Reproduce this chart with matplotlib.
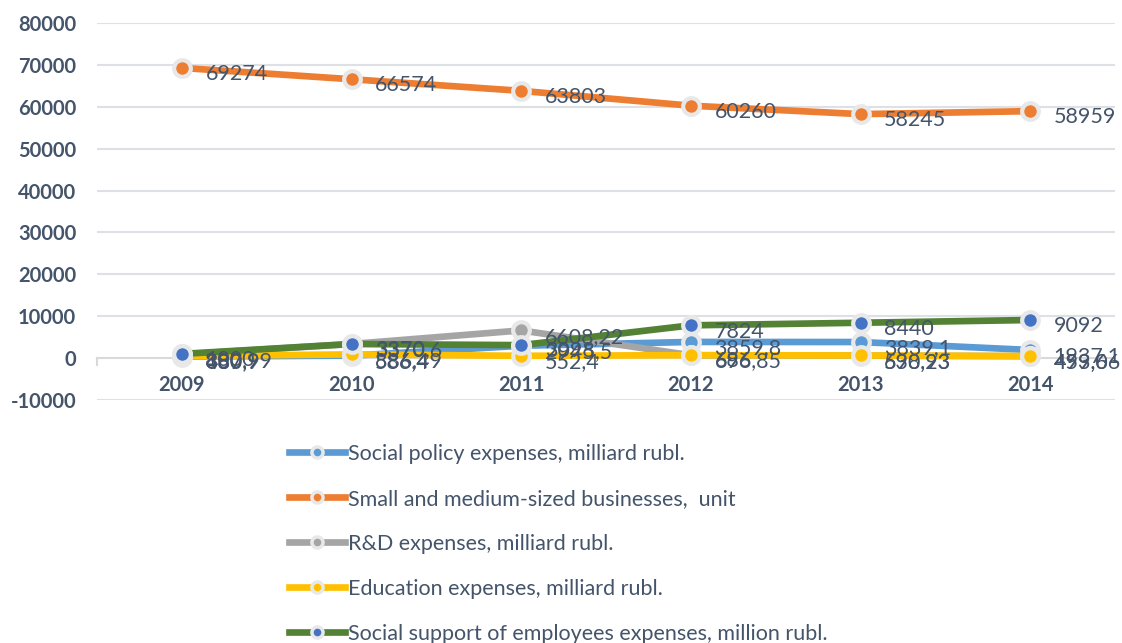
import matplotlib
matplotlib.use("Agg")
import matplotlib.pyplot as plt
from matplotlib.lines import Line2D

years = ["2009", "2010", "2011", "2012", "2013", "2014"]
social_policy = [380.0, 586.4, 2945.5, 3859.8, 3839.1, 1937.1]
smb = [69274, 66574, 63803, 60260, 58245, 58959]
rnd = [880.99, 3370.6, 6608.22, 686.0, 590.93, 453.6]
education = [487.9, 886.49, 552.4, 696.85, 638.23, 499.06]
social_support = [1000, 3370, 3098, 7824, 8440, 9092]

social_policy_labels = ["380", "586,4", "2945,5", "3859,8", "3839,1", "1937,1"]
smb_labels = ["69274", "66574", "63803", "60260", "58245", "58959"]
rnd_labels = ["880,99", "3370,6", "6608,22", "686", "590,93", "453,6"]
education_labels = ["487,9", "886,49", "552,4", "696,85", "638,23", "499,06"]
support_labels = ["1000", "3370", "3098", "7824", "8440", "9092"]

names = ["Social policy expenses, milliard rubl.",
         "Small and medium-sized businesses,  unit",
         "R&D expenses, milliard rubl.",
         "Education expenses, milliard rubl.",
         "Social support of employees expenses, million rubl."]

plt.rcParams['font.family'] = ['Lato', 'DejaVu Sans']
TXT = "#44546A"

fig = plt.figure(figsize=(11.22, 6.43), dpi=100)
ax = fig.add_axes([97/1122, 1-400/643, (1115-97)/1122, (400-23)/643])

x = list(range(len(years)))
series = [
    (social_policy, social_policy_labels, "#5B9BD5", "#5B9BD5"),
    (smb, smb_labels, "#ED7D31", "#ED7D31"),
    (rnd, rnd_labels, "#A5A5A5", "#A5A5A5"),
    (education, education_labels, "#FFC000", "#FFC000"),
    (social_support, support_labels, "#548235", "#4472C4"),
]

handles = []
for i, (vals, labs, lc, mc) in enumerate(series):
    ax.plot(x, vals, color=lc, lw=4.8, solid_capstyle='round', zorder=3 + i * 0.1)
    ax.plot(x, vals, ls='none', marker='o', ms=12, mfc=mc, mec="#E8E8E8",
            mew=3, zorder=4 + i * 0.1)
    for xi, v, t in zip(x, vals, labs):
        ax.annotate(t, (xi, v), xytext=(17, -4.5), textcoords='offset points',
                    ha='left', va='center', fontsize=15.5, color=TXT, zorder=6)
    handles.append(Line2D([0], [0], color=lc, lw=4.8, marker='o', ms=8,
                          mfc=mc, mec="#E8E8E8", mew=2.5))

ax.set_xlim(-0.5, len(years) - 0.5)
ax.set_ylim(-10000, 80000)
ax.set_yticks(range(-10000, 80001, 10000))
ax.set_yticklabels([str(v) for v in range(-10000, 80001, 10000)],
                   fontsize=14.5, color=TXT, fontweight='bold')
ax.tick_params(axis='y', length=0, pad=15)
for v in range(-10000, 80001, 10000):
    if v != 0:
        ax.axhline(v, color="#DDE1E6", lw=1.5, zorder=0)

for s in ['top', 'right', 'left']:
    ax.spines[s].set_visible(False)
ax.spines['bottom'].set_position(('data', 0))
ax.spines['bottom'].set_color("#D9D9D9")
ax.spines['bottom'].set_linewidth(1.5)
ax.spines['bottom'].set_zorder(1)
ax.set_xticks(x)
ax.set_xticklabels(years, fontsize=14.5, color=TXT, fontweight='bold')
ax.tick_params(axis='x', length=0, pad=12)
ax.plot([-0.5, -0.5], [0, -1700], color="#D9D9D9", lw=1.5, clip_on=False, zorder=1)

leg = fig.legend(handles, names, loc='upper left', bbox_to_anchor=(289/1122, 1-444/643),
                 frameon=False, fontsize=15.5, labelcolor=TXT, ncol=1,
                 handlelength=2.6, handletextpad=0.15, labelspacing=1.16,
                 borderaxespad=0, borderpad=0)

fig.savefig("out.png", dpi=100)
